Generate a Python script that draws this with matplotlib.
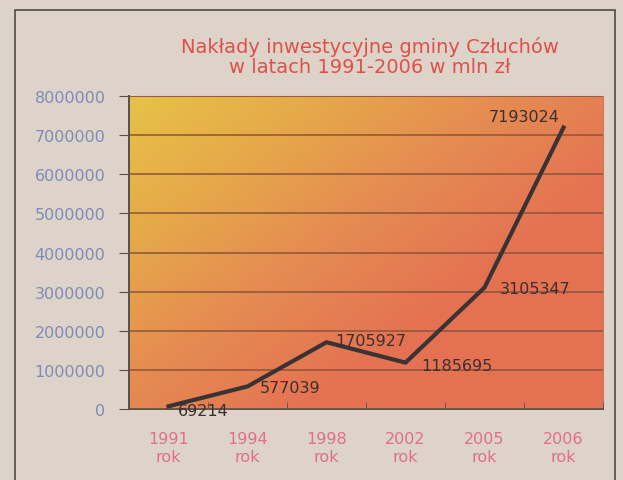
import numpy as np
import matplotlib.pyplot as plt
from matplotlib.colors import LinearSegmentedColormap
from matplotlib.patches import Rectangle

years = ["1991\nrok", "1994\nrok", "1998\nrok", "2002\nrok", "2005\nrok", "2006\nrok"]
values = [69214, 577039, 1705927, 1185695, 3105347, 7193024]
# label offsets in points (dx, dy, ha) as they sit in the newspaper print
label_offsets = [(7, -3, "left"), (9, -1, "left"), (6, 1, "left"),
                 (11, -2, "left"), (11, -1, "left"), (-3, 8, "right")]

paper = "#ddd3c8"
fig = plt.figure(figsize=(6.23, 4.81), dpi=100, facecolor=paper)

# outer frame of the chart box (bottom edge cut off by the scan)
fig.patches.append(Rectangle((15 / 623, -0.05), 600 / 623, 1.05 - 11 / 481,
                             transform=fig.transFigure, fill=False,
                             edgecolor="#5a5550", linewidth=1.3))

ax = fig.add_axes([129 / 623, 1 - 410 / 481, 474 / 623, 313 / 481])

# diagonal yellow -> red gradient in the plot area
cmap = LinearSegmentedColormap.from_list("grad", ["#e6c248", "#e6a84a", "#e58a52", "#e47252"])
gx, gy = np.meshgrid(np.linspace(0, 1, 200), np.linspace(0, 1, 200))
grad = np.clip(0.8 * gx + 0.7 * gy, 0, 1)
ax.imshow(grad, cmap=cmap, extent=[-0.5, 5.5, 0, 8000000], origin="upper",
          aspect="auto", zorder=0, vmin=0, vmax=1)

x = np.arange(len(years))
ax.plot(x, values, color="#3a3333", linewidth=3, zorder=3, solid_joinstyle="miter")

for xi, v, (dx, dy, ha) in zip(x, values, label_offsets):
    ax.annotate(str(v), (xi, v), xytext=(dx, dy), textcoords="offset points",
                fontsize=11.5, color="#3a3030", ha=ha, va="center", zorder=4)

ax.set_xlim(-0.5, 5.5)
ax.set_ylim(0, 8000000)
ax.set_yticks(np.arange(0, 8000001, 1000000))
ax.set_yticklabels([str(int(t)) for t in np.arange(0, 8000001, 1000000)])
ax.yaxis.grid(True, color="#8a5538", linewidth=1.1)
ax.set_axisbelow(False)

ax.set_xticks(x)
ax.set_xticklabels(years)
ax.set_xticks(np.arange(-0.5, 6, 1), minor=True)
ax.tick_params(axis="x", which="major", length=0, pad=16, colors="#e07088", labelsize=11.5)
ax.tick_params(axis="x", which="minor", length=5, direction="in", color="#555050")
ax.tick_params(axis="y", length=7, pad=10, color="#555050", colors="#7d8cb8", labelsize=11.5)

for s in ["top", "right"]:
    ax.spines[s].set_color("#c87a60")
ax.spines["left"].set_color("#555050")
ax.spines["bottom"].set_color("#555050")
ax.spines["left"].set_linewidth(1.4)
ax.spines["bottom"].set_linewidth(1.4)

fig.text(370 / 623, 1 - 57 / 481, "Nakłady inwestycyjne gminy Człuchów\nw latach 1991-2006 w mln zł",
         ha="center", va="center", color="#e0504a", fontsize=14, linespacing=1.1)

fig.savefig("out.png", dpi=100, facecolor=paper)
